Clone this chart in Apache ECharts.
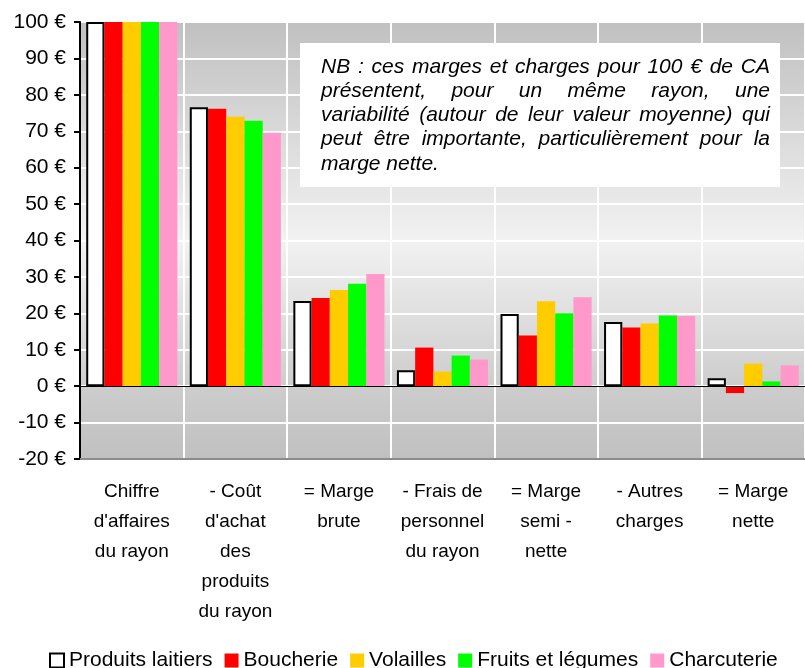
<!DOCTYPE html>
<html>
<head>
<meta charset="utf-8">
<script src="https://cdn.jsdelivr.net/npm/echarts@6/dist/echarts.min.js"></script>
<style>
  html, body { margin: 0; padding: 0; background: #fff; }
  #chart { width: 805px; height: 668px; }
</style>
</head>
<body>
<div id="chart"></div>
<script>
// postes du compte de résultat du rayon (pour 100 € de CA)
const categories = [
  'Chiffre\nd\'affaires\ndu rayon',
  '- Coût\nd\'achat\ndes\nproduits\ndu rayon',
  '= Marge\nbrute',
  '- Frais de\npersonnel\ndu rayon',
  '= Marge\nsemi -\nnette',
  '- Autres\ncharges',
  '= Marge\nnette'
]
const rayons = ['Produits laitiers', 'Boucherie', 'Volailles', 'Fruits et légumes', 'Charcuterie']
const couleurs = ['#ffffff', '#ff0000', '#ffcc00', '#00ff00', '#ff99cc']

const produitsLaitiers = [100, 76.6, 23.4, 4.4, 19.8, 17.6, 2.2]
const boucherie = [100, 76.2, 24.2, 10.6, 13.9, 16.1, -1.9]
const volailles = [100, 74.0, 26.4, 4.0, 23.3, 17.2, 6.2]
const fruitsLegumes = [100, 72.9, 28.1, 8.4, 20.0, 19.4, 1.3]
const charcuterie = [100, 69.6, 30.8, 7.3, 24.4, 19.3, 5.7]
const valeurs = [produitsLaitiers, boucherie, volailles, fruitsLegumes, charcuterie]

const yTicks = { min: -20, max: 100, interval: 10 }

const noteLines = [
  'NB : ces marges et charges pour 100 € de CA',
  'présentent, pour un même rayon, une',
  'variabilité (autour de leur valeur moyenne) qui',
  'peut être importante, particulièrement pour la',
  'marge nette.'
]

const FONT = '"Liberation Sans", Arial, sans-serif'

// texte justifié : on répartit l'espace entre les mots
function justifiedNote(left, top, width, lineHeight, fontSize) {
  const ctx = document.createElement('canvas').getContext('2d')
  const font = 'italic ' + fontSize + 'px ' + FONT
  ctx.font = font
  const children = []
  noteLines.forEach((line, i) => {
    const words = line.split(' ')
    const y = top + i * lineHeight
    const last = i === noteLines.length - 1
    const wordsW = words.reduce((s, w) => s + ctx.measureText(w).width, 0)
    const gap = last || words.length < 2 ? ctx.measureText(' ').width : (width - wordsW) / (words.length - 1)
    let x = left
    words.forEach(w => {
      children.push({
        type: 'text',
        z: 101,
        x: x, y: y,
        style: { text: w, font: font, fill: '#000', verticalAlign: 'middle' }
      })
      x += ctx.measureText(w).width + gap
    })
  })
  return children
}

const chart = echarts.init(document.getElementById('chart'))

const option = {
  backgroundColor: '#fff',
  animation: false,
  grid: {
    left: 80, top: 22, bottom: 209, right: -12,
    show: true,
    borderWidth: 2,
    borderColor: '#8c8c8c',
    backgroundColor: {
      type: 'linear', x: 0, y: 0, x2: 0, y2: 1,
      colorStops: [
        { offset: 0, color: '#c0c0c0' },
        { offset: 0.5, color: '#f2f2f2' },
        { offset: 0.83, color: '#cdcdcd' },
        { offset: 1, color: '#c0c0c0' }
      ]
    }
  },
  legend: {
    top: 645,
    left: 44,
    icon: 'rect',
    itemWidth: 14,
    itemHeight: 14,
    itemGap: 12,
    textStyle: { fontFamily: FONT, fontSize: 21, color: '#000' },
    data: rayons
  },
  xAxis: {
    type: 'category',
    data: categories,
    axisLine: { onZero: false, lineStyle: { color: '#8c8c8c', width: 2 } },
    axisTick: { show: false },
    splitLine: { show: true, lineStyle: { color: '#ffffff', width: 2 } },
    axisLabel: {
      interval: 0, margin: 18,
      fontFamily: FONT, fontSize: 19, lineHeight: 30, color: '#000'
    }
  },
  yAxis: {
    type: 'value',
    min: yTicks.min, max: yTicks.max, interval: yTicks.interval,
    axisLine: { show: true, onZero: false, lineStyle: { color: '#000', width: 2 } },
    axisTick: { show: true, length: 6, lineStyle: { color: '#000', width: 2 } },
    splitLine: { show: true, lineStyle: { color: '#ffffff', width: 2 } },
    axisLabel: {
      margin: 14,
      fontFamily: FONT, fontSize: 21, color: '#000',
      formatter: v => v + ' €'
    }
  },
  series: rayons.map((name, i) => ({
    name: name,
    type: 'bar',
    data: valeurs[i],
    barGap: '0%',
    barCategoryGap: '12%',
    itemStyle: i === 0
      ? { color: couleurs[i], borderColor: '#000', borderWidth: 2 }
      : { color: couleurs[i] },
    markLine: i === 0 ? {
      silent: true, symbol: 'none', label: { show: false },
      lineStyle: { color: '#000', width: 1, type: 'solid' },
      data: [{ yAxis: 0 }]
    } : undefined
  })),
  graphic: [
    {
      type: 'rect',
      z: 100,
      shape: { x: 300, y: 43, width: 480, height: 144 },
      style: { fill: '#ffffff' }
    },
    {
      type: 'group',
      z: 101,
      children: justifiedNote(321, 67, 449, 24.2, 21)
    }
  ]
}

chart.setOption(option)
</script>
</body>
</html>
